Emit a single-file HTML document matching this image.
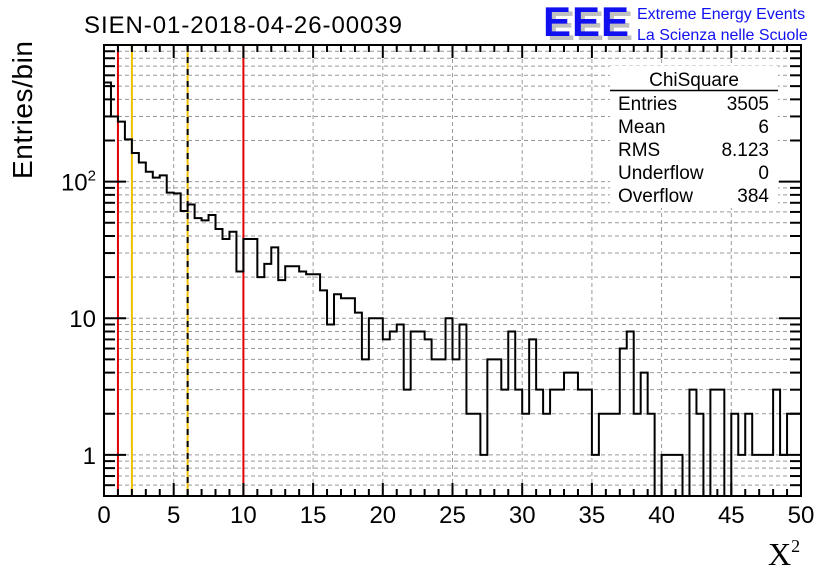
<!DOCTYPE html>
<html><head><meta charset="utf-8"><style>
body{margin:0;background:#fff;}
svg{display:block;font-family:"Liberation Sans",sans-serif;}
</style></head><body>
<svg id="c" width="836" height="572" viewBox="0 0 836 572">
<rect width="836" height="572" fill="#fff"/>
<g id="grid"></g>
<g id="vlines"></g>
<path id="hist" fill="none" stroke="#000" stroke-width="2"/>
<g>
<rect x="610" y="66" width="168" height="142" fill="#fff"/>
<text x="694" y="86" font-size="19" text-anchor="middle">ChiSquare</text>
<line x1="610" y1="90.5" x2="778" y2="90.5" stroke="#000" stroke-width="1.5"/>
<g font-size="19">
<text x="618" y="110">Entries</text><text x="769" y="110" text-anchor="end">3505</text>
<text x="618" y="133">Mean</text><text x="769" y="133" text-anchor="end">6</text>
<text x="618" y="156">RMS</text><text x="769" y="156" text-anchor="end">8.123</text>
<text x="618" y="179">Underflow</text><text x="769" y="179" text-anchor="end">0</text>
<text x="618" y="202">Overflow</text><text x="769" y="202" text-anchor="end">384</text>
</g></g>
<rect x="104" y="45" width="697" height="451" fill="none" stroke="#000" stroke-width="2"/>
<g id="ticks" stroke="#000" stroke-width="2"></g>
<g id="labels" font-size="24"></g>
<text x="84" y="33" font-size="24" textLength="318">SIEN-01-2018-04-26-00039</text>
<g>
<text x="547" y="40" font-size="42" font-weight="bold" fill="#c0c0c0" textLength="86">EEE</text>
<text x="543" y="36" font-size="42" font-weight="bold" fill="#1010f0" textLength="86">EEE</text>
<text x="637" y="19" font-size="16" fill="#1010f0">Extreme Energy Events</text>
<text x="637" y="40" font-size="16" fill="#1010f0">La Scienza nelle Scuole</text>
</g>
<text transform="translate(32,110) rotate(-90)" font-size="28" text-anchor="middle" textLength="138">Entries/bin</text>
<text x="768" y="565" font-size="32" font-family="Liberation Serif,serif">X<tspan font-size="18" dy="-13">2</tspan></text>
</svg>
<script>
const binWidth=0.5;
const counts=[531,300,275,204,162,138,118,107,111,83,82,61,68,54,52,57,45,38,43,22,38,38,20,25,33,19,24,24,22,21,21,16,9,15,14,14,11,5,10,10,7,8,9,3,8,8,7,5,5,10,5,9,2,2,1,5,5,3,8,3,2,7,3,2,3,3,4,4,3,3,1,2,2,2,6,8,2,4,2,0,1,1,1,0,3,2,0,3,3,0,2,1,2,1,1,1,3,1,2,2];
const xTicks=[0,5,10,15,20,25,30,35,40,45,50];
const yTickLabels=[[1,"1"],[10,"10"],[100,"10<tspan font-size='15' dy='-10'>2</tspan>"]];
const refLines=[[1,"#e00000",false],[2,"#f0c000",false],[6,"#f0c000",true],[10,"#e00000",false]];
const X0=104,X1=801,Y0=496,Y1=45,XMIN=0,XMAX=50,YMIN=0.5,YMAX=1000;
const sx=v=>X0+(v-XMIN)/(XMAX-XMIN)*(X1-X0);
const sy=v=>Y0-(Math.log10(Math.max(v,YMIN))-Math.log10(YMIN))/(Math.log10(YMAX)-Math.log10(YMIN))*(Y0-Y1);
const NS="http://www.w3.org/2000/svg";
function mk(tag,attrs,parent){const e=document.createElementNS(NS,tag);for(const k in attrs)e.setAttribute(k,attrs[k]);parent.appendChild(e);return e;}
const grid=document.getElementById('grid'),ticks=document.getElementById('ticks'),labels=document.getElementById('labels');
for(let d=0.1;d<=1000;d*=10){for(let m=1;m<=9;m++){const v=Math.round(d*m*10)/10;if(v<YMIN||v>YMAX)continue;const y=sy(v);
const g=mk('line',{x1:X0,x2:X1,y1:y,y2:y,stroke:'#999','stroke-dasharray':'4,3','stroke-width':1},grid);


const L=m===1?22:11;
mk('line',{x1:X0,x2:X0+L,y1:y,y2:y},ticks);
mk('line',{x1:X1,x2:X1-L,y1:y,y2:y},ticks);}}
for(let v=0;v<=50;v++){const x=sx(v);const maj=v%5===0;
if(maj&&v>0&&v<50){const g=mk('line',{x1:x,x2:x,y1:Y1,y2:Y0,stroke:'#999','stroke-dasharray':'4,3','stroke-width':1},grid);

}
const L=maj?13:7;
mk('line',{x1:x,x2:x,y1:Y0,y2:Y0-L},ticks);
mk('line',{x1:x,x2:x,y1:Y1,y2:Y1+L},ticks);}
xTicks.forEach(v=>{const t=mk('text',{x:sx(v),y:523,'text-anchor':'middle'},labels);t.textContent=v;

});
yTickLabels.forEach(([v,s])=>{const t=mk('text',{x:96,y:sy(v)+9,'text-anchor':'end'},labels);t.innerHTML=s;

});
const vl=document.getElementById('vlines');
refLines.forEach(([v,c,dash])=>{const x=sx(v);
if(dash){mk('line',{x1:x,x2:x,y1:Y1,y2:Y0,stroke:c,'stroke-width':2},vl);}
const l=mk('line',{x1:x,x2:x,y1:Y1,y2:Y0,stroke:dash?'#000':c,'stroke-width':2,'stroke-dasharray':dash?'6,6':'none'},vl);

});
let d='';counts.forEach((c,i)=>{const xa=sx(i*binWidth),xb=sx((i+1)*binWidth);const y=c>0?sy(c):Y0;
d+=(i===0?'M'+xa+','+y:'L'+xa+','+y)+'L'+xb+','+y;});
document.getElementById('hist').setAttribute('d',d);
</script>
</body></html>
